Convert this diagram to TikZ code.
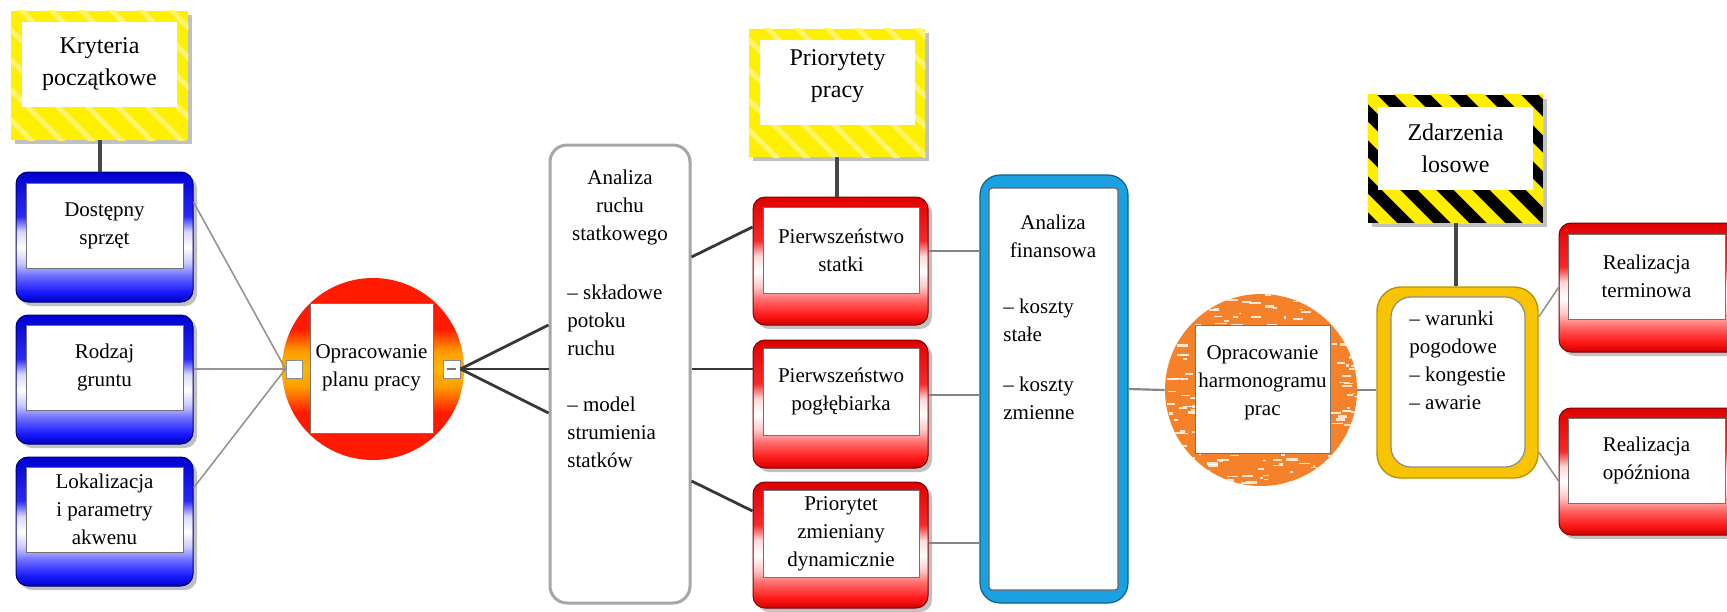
\documentclass[tikz,border=0pt]{standalone}
\usepackage{fontspec}
\setmainfont{Liberation Serif}
\usetikzlibrary{shadows,calc}

\definecolor{gb0}{HTML}{0000C0}
\definecolor{gb1}{HTML}{1A1AFF}
\definecolor{gb2}{HTML}{6A6AFF}
\definecolor{gb3}{HTML}{C8C8FF}
\definecolor{gb4}{HTML}{D8D8FF}
\definecolor{gb5}{HTML}{2A2AF4}
\definecolor{gb6}{HTML}{0000D0}
\definecolor{gr0}{HTML}{D00000}
\definecolor{gr1}{HTML}{FF1A1A}
\definecolor{gr2}{HTML}{FF6A6A}
\definecolor{gr3}{HTML}{FFC8C8}
\definecolor{gr4}{HTML}{FFD8D8}
\definecolor{gr5}{HTML}{F42A2A}
\definecolor{gr6}{HTML}{E00000}
\definecolor{o0}{HTML}{FF1A00}
\definecolor{o1}{HTML}{FF9A00}
\definecolor{o2}{HTML}{FFB800}
\definecolor{signyellow}{HTML}{FFF000}
\definecolor{signstripe}{HTML}{FFF566}
\definecolor{zyellow}{HTML}{FFEE00}
\definecolor{finblue}{HTML}{1BA1E2}
\definecolor{goldbox}{HTML}{F8C400}
\definecolor{orangeball}{HTML}{F5822A}

\pgfdeclareverticalshading{glossblue}{100bp}{color(0bp)=(gb0); color(25bp)=(gb0); color(29bp)=(gb1); color(35bp)=(gb2); color(40bp)=(gb3); color(46bp)=(white); color(52bp)=(gb4); color(58bp)=(gb5); color(75bp)=(gb6); color(100bp)=(gb6)}
\pgfdeclareverticalshading{glossred}{100bp}{color(0bp)=(gr0); color(25bp)=(gr0); color(29bp)=(gr1); color(35bp)=(gr2); color(40bp)=(gr3); color(46bp)=(white); color(52bp)=(gr4); color(58bp)=(gr5); color(75bp)=(gr6); color(100bp)=(gr6)}
\pgfdeclareverticalshading{ballred}{100bp}{color(0bp)=(o0); color(38bp)=(o0); color(45bp)=(o1); color(50bp)=(o2); color(55bp)=(o1); color(61bp)=(o0); color(100bp)=(o0)}

\tikzset{
  fs/.style={font=\fontsize{10.5pt}{14pt}\selectfont},
  sfs/.style={font=\fontsize{12pt}{16pt}\selectfont},
  sz/.style 2 args={minimum width=#1*0.5pt, minimum height=#2*0.5pt},
  shad/.style={drop shadow={shadow xshift=2pt,shadow yshift=-2pt,opacity=0.35,fill=black!70}},
  glossb/.style={rectangle, inner sep=0pt, rounded corners=6pt, shading=glossblue, draw=gb0!60!black, line width=0.5pt, shad},
  glossr/.style={rectangle, inner sep=0pt, rounded corners=6pt, shading=glossred, draw=gr0!60!black, line width=0.5pt, shad},
  inbox/.style={rectangle, inner sep=0pt, fill=white, draw=black!55, line width=0.5pt, align=center, fs},
  signbox/.style={rectangle, inner sep=0pt, fill=signyellow, shad},
  signin/.style={rectangle, inner sep=0pt, fill=white, align=center, sfs},
  txt/.style={inner sep=0pt, fs},
  ltxt/.style={inner sep=0pt, fs, align=left, anchor=west},
  anbox/.style={rectangle, inner sep=0pt, rounded corners=8.5pt, fill=white, draw=black!35, line width=1.5pt},
  finbox/.style={rectangle, inner sep=0pt, rounded corners=10pt, fill=finblue, draw=finblue!60!black, line width=0.6pt},
  wbox/.style={rectangle, inner sep=0pt, rounded corners=12pt, fill=goldbox, draw=goldbox!75!black, line width=0.7pt},
  winbox/.style={rectangle, inner sep=0pt, rounded corners=10pt, fill=white, draw=black!45, line width=0.6pt},
  smallsq/.style={rectangle, inner sep=0pt, fill=white, draw=black!45, line width=0.5pt},
  lconn/.style={draw=black!42, line width=0.8pt},
  dconn/.style={draw=black!78, line width=1.4pt},
  mconn/.style={draw=black!48, line width=1.1pt},
  sconn/.style={draw=black!72, line width=2pt}
}

\begin{document}
\begin{tikzpicture}[x=0.5pt,y=-0.5pt]
\useasboundingbox (0,0) rectangle (1727,611);

% ---------- Kryteria sign ----------
\node[signbox, sz={177}{129}] (K) at (99.5,75.5) {};
\begin{scope}
  \clip (K.south west) rectangle (K.north east);
  \foreach \k in {-7,...,8} \draw[signstripe, line width=2.5pt] ({11+\k*30},0) -- ++(170,170);
\end{scope}
\node[signin, sz={155}{85}] (Ki) at (99.5,64.5) {Kryteria\\początkowe};

% ---------- blue boxes ----------
\node[glossb, sz={177}{130}] (D) at (104.5,237) {};
\node[inbox, sz={157}{85}] (Di) at (104.5,225.5) {Dostępny\\sprzęt};
\node[glossb, sz={177}{129}] (R) at (104.5,379.5) {};
\node[inbox, sz={157}{85}] (Ri) at (104.5,367.5) {Rodzaj\\gruntu};
\node[glossb, sz={177}{129}] (L) at (104.5,521.5) {};
\node[inbox, sz={157}{85}] (Li) at (104.5,509.5) {Lokalizacja\\i parametry\\akwenu};

\draw[sconn] (K.south) -- (K.south |- D.north);

% ---------- circle 1 ----------
\node[circle, inner sep=0pt, minimum size=182*0.5pt, shading=ballred] (C1) at (373,369) {};
\node[inbox, sz={123}{130}] (C1i) at (371.5,368) {Opracowanie\\planu pracy};
\node[smallsq, sz={16}{18}] (sqL) at (294,369) {};
\node[smallsq, sz={17}{18}] (sqR) at (451.5,369) {};
\draw[black!55, line width=0.6pt] ([xshift=-2.5pt]sqR.center) -- ([xshift=2pt]sqR.center);

\draw[lconn] ([yshift=17.5pt]D.east) -- (sqL.west);
\draw[lconn] ([yshift=5.25pt]R.east) -- (sqL.west);
\draw[lconn] ([yshift=16.75pt]L.east) -- (sqL.west);

% ---------- Analiza ruchu statkowego ----------
\node[anbox, sz={140}{458}] (A) at (620,374) {};
\node[txt, align=center] (At1) at (620,207) {Analiza\\ruchu\\statkowego};
\node[ltxt] (At2) at (567,376.5) {– składowe\\potoku\\ruchu\\[14pt]– model\\strumienia\\statków};

\draw[dconn] (sqR.east) -- ([yshift=24.5pt]A.west);
\draw[dconn] (sqR.east) -- ([yshift=2.5pt]A.west);
\draw[dconn] (sqR.east) -- ([yshift=-19.5pt]A.west);

% ---------- Priorytety sign ----------
\node[signbox, sz={176}{128}] (PP) at (837,93) {};
\begin{scope}
  \clip (PP.south west) rectangle (PP.north east);
  \foreach \k in {-7,...,8} \draw[signstripe, line width=2.5pt] ({749+\k*30},10) -- ++(170,170);
\end{scope}
\node[signin, sz={155}{85}] (PPi) at (837.5,82.5) {};
\node[inner sep=0pt, align=center, sfs] (PPt) at (837.5,76) {Priorytety\\pracy};

% ---------- red boxes ----------
\node[glossr, sz={175}{128}] (P1) at (840.5,261) {};
\node[inbox, sz={156}{86}] (P1i) at (841,250) {Pierwszeństwo\\statki};
\node[glossr, sz={175}{128}] (P2) at (840.5,404) {};
\node[inbox, sz={156}{87}] (P2i) at (841,391.5) {Pierwszeństwo\\pogłębiarka};
\node[glossr, sz={175}{126}] (P3) at (840.5,545) {};
\node[inbox, sz={156}{87}] (P3i) at (841,533.5) {Priorytet\\zmieniany\\dynamicznie};

\draw[sconn] (PP.south) -- (PP.south |- P1.north);

\draw[dconn] ([yshift=58.5pt]A.east) -- ([yshift=17pt]P1.west);
\draw[dconn] ([yshift=2.5pt]A.east) -- ([yshift=17.5pt]P2.west);
\draw[dconn] ([yshift=-53.5pt]A.east) -- ([yshift=17pt]P3.west);

% ---------- Analiza finansowa ----------
\node[finbox, sz={148}{428}] (F) at (1054,389) {};
\node[rectangle, inner sep=0pt, fill=white, draw=black!60, line width=0.6pt, rounded corners=1.5pt, sz={129}{402}] (Fi) at (1053.5,389) {};
\node[txt, align=center] (Ft1) at (1053,236) {Analiza\\finansowa};
\node[ltxt] (Ft2) at (1003,359) {– koszty\\stałe\\[11pt]– koszty\\zmienne};

\draw[mconn] ([yshift=5pt]P1.east) -- ([yshift=5pt]P1.east -| F.west);
\draw[mconn] ([yshift=4.5pt]P2.east) -- ([yshift=4.5pt]P2.east -| F.west);
\draw[mconn] ([yshift=1pt]P3.east) -- ([yshift=1pt]P3.east -| F.west);

% ---------- circle 2 ----------
\node[circle, inner sep=0pt, minimum size=192*0.5pt, fill=orangeball] (C2) at (1261,390) {};
\begin{scope}
  \clip (1261,390) circle[radius=48pt];
  \pgfmathsetseed{12}
  \foreach \k in {1,...,260}{
    \pgfmathsetmacro{\xx}{1261+96*rand}
    \pgfmathsetmacro{\yy}{390+96*rand}
    \pgfmathsetmacro{\ll}{2+10*rnd}
    \pgfmathsetmacro{\hh}{1+2*rnd}
    \fill[white, opacity=0.8] (\xx,\yy) rectangle ++(\ll,\hh);
  }
\end{scope}
\node[inbox, sz={135}{128}] (C2i) at (1262.5,389) {};
\node[txt, align=center] (C2t) at (1262.5,383) {Opracowanie\\harmonogramu\\prac};

\draw[mconn] (F.east) -- (C2.west);

% ---------- warunki box ----------
\node[wbox, sz={161}{191}] (W) at (1457.5,382.5) {};
\node[winbox, sz={134}{170}] (Wi) at (1458,382) {};
\node[ltxt] (Wt) at (1409,360) {– warunki\\pogodowe\\– kongestie\\– awarie};

\draw[mconn] (C2.east) -- (C2.east -| W.west);

% ---------- Zdarzenia sign ----------
\node[rectangle, inner sep=0pt, fill=black, shad, sz={175}{128}] (Z) at (1455.5,159) {};
\begin{scope}
  \clip (Z.south west) rectangle (Z.north east);
  \foreach \k in {-6,...,7} \draw[zyellow, line width=6.5pt] ({1368+\k*36-40},55) -- ++(230,230);
\end{scope}
\node[signin, sz={155}{83}] (Zi) at (1455.5,148.5) {Zdarzenia\\losowe};

\draw[sconn] (Z.south) -- (Z.south |- W.north);

% ---------- Realizacja boxes ----------
\node[glossr, sz={181}{129}] (RT) at (1649.5,287.5) {};
\node[inbox, sz={157}{85}] (RTi) at (1646.5,276.5) {Realizacja\\terminowa};
\node[glossr, sz={181}{127}] (RO) at (1649.5,471.5) {};
\node[inbox, sz={157}{85}] (ROi) at (1646.5,460.5) {Realizacja\\opóźniona};

\draw[lconn] ([yshift=32.75pt]W.east) -- (RT.west);
\draw[lconn] ([yshift=-34.75pt]W.east) -- ([yshift=-4.75pt]RO.west);
\end{tikzpicture}
\end{document}
